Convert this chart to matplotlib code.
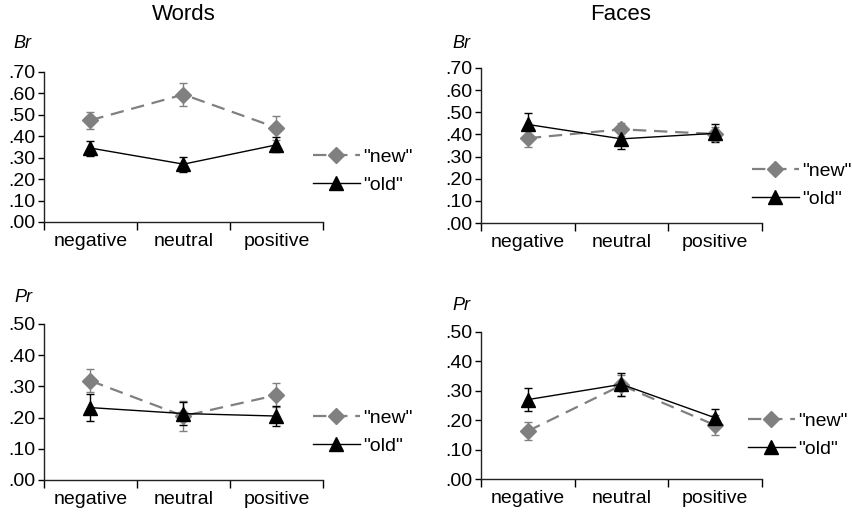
import matplotlib
matplotlib.use('Agg')
import matplotlib.pyplot as plt
import numpy as np

plt.rcParams['font.family'] = ['Liberation Sans', 'DejaVu Sans']

categories = ["negative", "neutral", "positive"]
series_labels = ['"new"', '"old"']

words_br_new = [0.475, 0.595, 0.44]
words_br_new_err = [0.04, 0.055, 0.055]
words_br_old = [0.345, 0.27, 0.36]
words_br_old_err = [0.035, 0.035, 0.035]

faces_br_new = [0.383, 0.423, 0.402]
faces_br_new_err = [0.04, 0.03, 0.03]
faces_br_old = [0.445, 0.38, 0.405]
faces_br_old_err = [0.05, 0.045, 0.04]

words_pr_new = [0.318, 0.205, 0.272]
words_pr_new_err = [0.037, 0.048, 0.038]
words_pr_old = [0.232, 0.213, 0.205]
words_pr_old_err = [0.043, 0.037, 0.033]

faces_pr_new = [0.163, 0.319, 0.183]
faces_pr_new_err = [0.03, 0.035, 0.035]
faces_pr_old = [0.270, 0.322, 0.208]
faces_pr_old_err = [0.04, 0.04, 0.03]

br_ticks = [0.0, 0.1, 0.2, 0.3, 0.4, 0.5, 0.6, 0.7]
br_tick_labels = [".00", ".10", ".20", ".30", ".40", ".50", ".60", ".70"]
pr_ticks = [0.0, 0.1, 0.2, 0.3, 0.4, 0.5]
pr_tick_labels = [".00", ".10", ".20", ".30", ".40", ".50"]

titles = ["Words", "Faces"]

W, H = 853, 512
fig = plt.figure(figsize=(W / 100, H / 100), dpi=100)


def px_axes(l, t, r, b):
    return fig.add_axes([l / W, 1 - b / H, (r - l) / W, (b - t) / H])


GRAY = '#808080'


def draw(ax, new, new_err, old, old_err, ticks, tick_labels, leg_xy):
    x = np.arange(len(categories)) + 0.5
    ax.errorbar(x, new, yerr=new_err, fmt='none', ecolor=GRAY,
                elinewidth=1, capsize=3, capthick=1, zorder=2)
    ax.errorbar(x, old, yerr=old_err, fmt='none', ecolor='black',
                elinewidth=1, capsize=3, capthick=1, zorder=3)
    ax.plot(x, new, color=GRAY, ls=(0, (6, 3.5)), lw=1.6, marker='D', ms=8.5,
            mfc=GRAY, mec=GRAY, label=series_labels[0], zorder=4)
    ax.plot(x, old, color='black', lw=1.0, marker='^', ms=10,
            mfc='black', mec='black', label=series_labels[1], zorder=5)
    ax.set_xlim(0, 3)
    ax.set_ylim(ticks[0], ticks[-1])
    ax.set_yticks(ticks)
    ax.set_yticklabels(tick_labels)
    ax.set_xticks([0, 1, 2, 3])
    ax.set_xticklabels([])
    ax.set_xticks(x, minor=True)
    ax.set_xticklabels(categories, minor=True)
    ax.tick_params(axis='x', which='major', length=6, width=1, direction='out')
    ax.tick_params(axis='x', which='minor', length=0, pad=8, labelsize=14)
    ax.tick_params(axis='y', length=4, width=1, pad=2, labelsize=14)
    for s in ['top', 'right']:
        ax.spines[s].set_visible(False)
    for s in ['left', 'bottom']:
        ax.spines[s].set_linewidth(1)
        ax.spines[s].set_color('#222222')
    ax.patch.set_alpha(0)
    ax.legend(loc='upper left', bbox_to_anchor=(leg_xy[0] / W, 1 - leg_xy[1] / H),
              bbox_transform=fig.transFigure, frameon=False, fontsize=14,
              borderpad=0, borderaxespad=0, handlelength=2.4,
              handletextpad=0.2, labelspacing=0.55, numpoints=1)


ax1 = px_axes(44, 72, 323, 222)
draw(ax1, words_br_new, words_br_new_err, words_br_old, words_br_old_err,
     br_ticks, br_tick_labels, (313, 148))
ax2 = px_axes(481, 68, 762, 223)
draw(ax2, faces_br_new, faces_br_new_err, faces_br_old, faces_br_old_err,
     br_ticks, br_tick_labels, (752, 162))
ax3 = px_axes(44, 324, 323, 480)
draw(ax3, words_pr_new, words_pr_new_err, words_pr_old, words_pr_old_err,
     pr_ticks, pr_tick_labels, (313, 409))
ax4 = px_axes(481, 332, 762, 479)
draw(ax4, faces_pr_new, faces_pr_new_err, faces_pr_old, faces_pr_old_err,
     pr_ticks, pr_tick_labels, (748, 412))

fig.text(184 / W, 1 - 15 / H, titles[0], ha='center', va='center', fontsize=16)
fig.text(621 / W, 1 - 14 / H, titles[1], ha='center', va='center', fontsize=16)

fig.text(22 / W, 1 - 44 / H, "Br", ha='center', va='center', fontsize=13, style='italic')
fig.text(461 / W, 1 - 43 / H, "Br", ha='center', va='center', fontsize=13, style='italic')
fig.text(23 / W, 1 - 298 / H, "Pr", ha='center', va='center', fontsize=13, style='italic')
fig.text(461 / W, 1 - 305 / H, "Pr", ha='center', va='center', fontsize=13, style='italic')

fig.savefig('out.png', dpi=100, facecolor='white')
